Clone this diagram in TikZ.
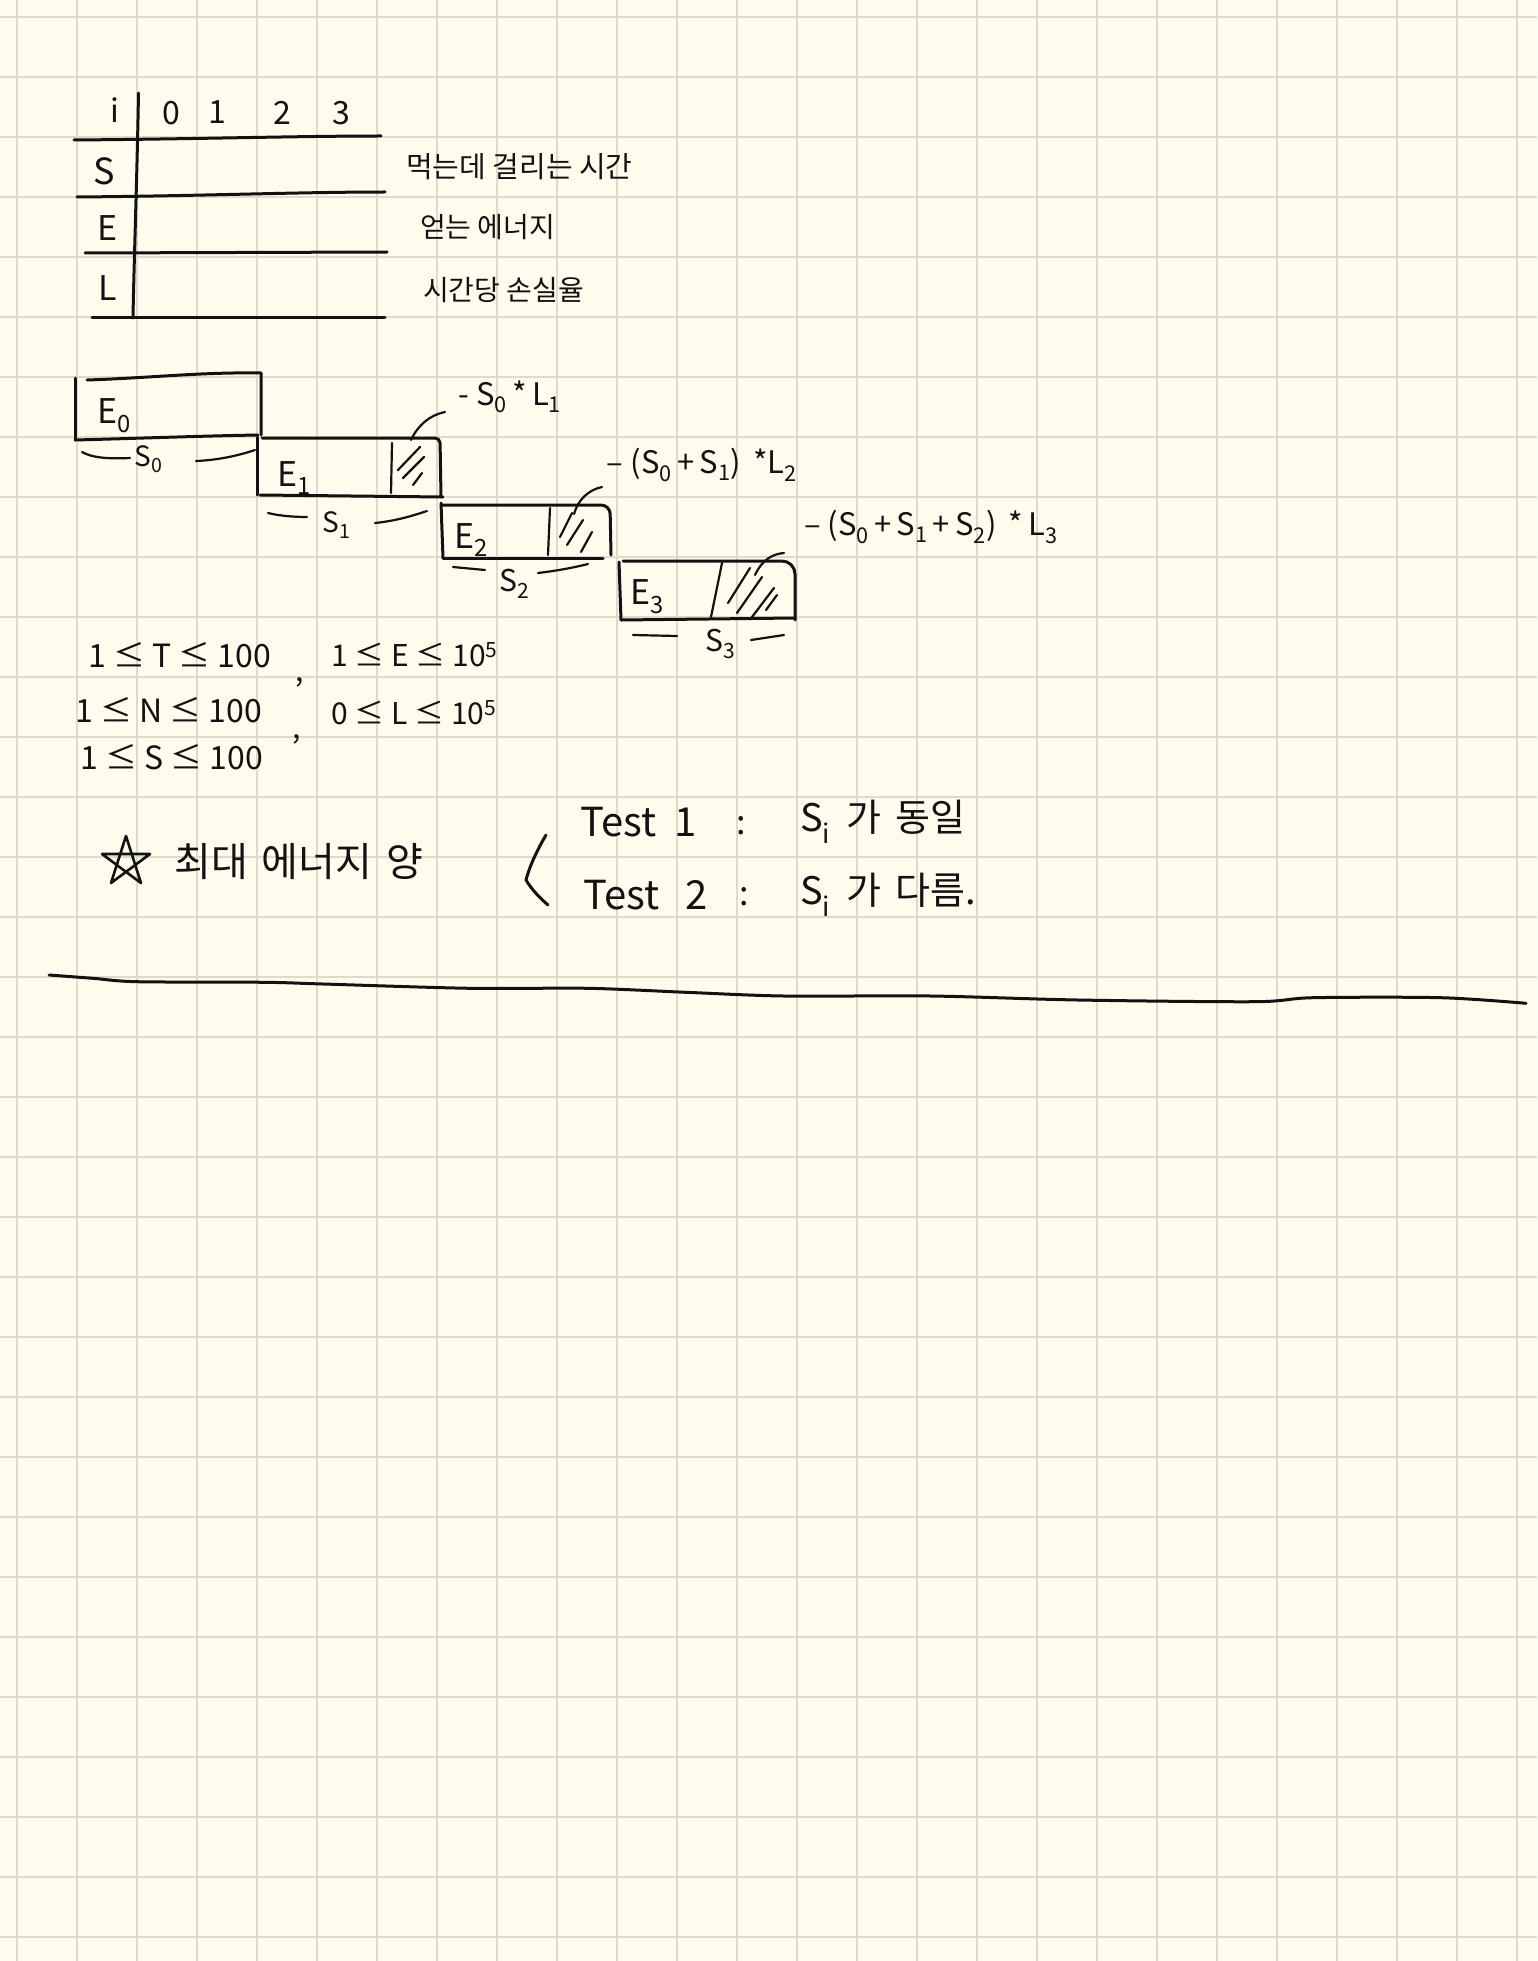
\documentclass[tikz,border=0pt]{standalone}
\usepackage{fontspec}
\setmainfont{Noto Sans CJK KR}
\definecolor{paper}{RGB}{255,252,237}
\definecolor{gridc}{RGB}{221,219,203}
\definecolor{ink}{RGB}{18,18,18}
\begin{document}
\begin{tikzpicture}[x=1pt,y=-1pt,
  pen/.style={draw=ink,line width=3pt,line cap=round,line join=round},
  thinpen/.style={draw=ink,line width=2.2pt,line cap=round,line join=round},
  hw/.style={text=ink,inner sep=0pt,font=\fontsize{#1}{#1}\selectfont},
]
\fill[paper] (0,0) rectangle (1537,1961);
\useasboundingbox (0,0) rectangle (1537,1961);
\foreach \i in {0,...,25} \draw[gridc,line width=2pt] ({16.7+60*\i},0) -- ({16.7+60*\i},1961);
\foreach \j in {0,...,32} \draw[gridc,line width=2pt] (0,{16.7+60*\j}) -- (1537,{16.7+60*\j});

% ---- table
\draw[pen] (74,140) .. controls (200,139) and (300,136) .. (381,136);
\draw[pen] (77,197) .. controls (200,196) and (300,192) .. (385,192);
\draw[pen] (85,253) -- (387,252);
\draw[pen] (92,317) -- (385,317);
\draw[pen] (138.5,93) .. controls (137,180) and (134,260) .. (133,318);
\node[hw=32] (hi) at (115,110) {i};
\node[hw=32] (h0) at (171,113) {0};
\node[hw=32] (h1) at (217,112) {1};
\node[hw=32] (h2) at (282,113) {2};
\node[hw=32] (h3) at (341,113) {3};
\node[hw=36] (rS) at (104,171) {S};
\node[hw=34] (rE) at (108,228) {E};
\node[hw=34] (rL) at (108,288) {L};
\node[hw=29,anchor=west] (kS) at (406,167) {먹는데 걸리는 시간};
\node[hw=28,anchor=west] (kE) at (420,227) {얻는 에너지};
\node[hw=28,anchor=west] (kL) at (423,290) {시간당 손실율};

% ---- staircase
% E0
\draw[pen] (75,378) -- (75,440);
\draw[pen] (87,380) .. controls (150,378) and (200,372) .. (261,373) -- (261,435);
\draw[pen] (75,440) .. controls (150,438) and (200,436) .. (258,435);
\node[hw=34] (e0) at (114,416) {E\textsubscript{0}};
% E1
\draw[pen] (257,437) -- (257,495);
\draw[pen,rounded corners=5] (262,438) -- (440,438) -- (441,497);
\draw[pen] (260,495) -- (443,497);
\draw[thinpen] (392,443) -- (391,493);
\draw[thinpen] (398,470) -- (420,447);
\draw[thinpen] (403,478) -- (424,457);
\draw[thinpen] (413,485) -- (422,473);
\node[hw=34] (e1) at (294,478) {E\textsubscript{1}};
% E2
\draw[pen] (441,503) -- (443,558);
\draw[pen,rounded corners=9] (441,505) -- (610,505) -- (611,555);
\draw[pen] (443,558) -- (603,558);
\draw[thinpen] (550,508) -- (548,555);
\draw[thinpen] (572,513) -- (560,537);
\draw[thinpen] (583,520) -- (567,545);
\draw[thinpen] (592,532) -- (581,552);
\node[hw=34] (e2) at (471,540) {E\textsubscript{2}};
% E3
\draw[pen] (619,562) -- (621,620);
\draw[pen,rounded corners=13] (623,561) -- (795,561) -- (795,620);
\draw[pen] (621,620) -- (795,618);
\draw[thinpen] (722,563) -- (711,617);
\draw[thinpen] (728,603) -- (750,568);
\draw[thinpen] (737,613) -- (762,577);
\draw[thinpen] (752,617) -- (774,588);
\draw[thinpen] (766,610) -- (777,595);
\node[hw=34] (e3) at (647,597) {E\textsubscript{3}};

% leaders and loss labels
\node[hw=31] (l1) at (510,397) {- S\textsubscript{0}\,*\,L\textsubscript{1}};
\node[hw=31] (l2) at (702,465) {– (S\textsubscript{0}\,+\,S\textsubscript{1})\, *L\textsubscript{2}};
\node[hw=31] (l3) at (931,527) {– (S\textsubscript{0}\,+\,S\textsubscript{1}\,+\,S\textsubscript{2})\, *\,L\textsubscript{3}};
\coordinate (h1a) at (411,440);
\coordinate (h2a) at (574,514);
\coordinate (h3a) at (755,575);
\draw[thinpen] (h1a) .. controls (418,425) and (430,415) .. (445,412);
\draw[thinpen] (h2a) .. controls (578,500) and (588,490) .. (602,487);
\draw[thinpen] (h3a) .. controls (762,560) and (772,554) .. (784,553);

% braces
\draw[thinpen] (82,452) .. controls (92,458) and (110,459) .. (130,458);
\node[hw=28] (s0) at (149,459) {S\textsubscript{0}};
\draw[thinpen] (196,461) .. controls (220,460) and (240,455) .. (255,450);
\draw[thinpen] (268,513) .. controls (280,516) and (295,517) .. (307,517);
\node[hw=28] (s1) at (337,525) {S\textsubscript{1}};
\draw[thinpen] (375,523) .. controls (395,521) and (412,516) .. (427,511);
\draw[thinpen] (453,567) -- (485,570);
\node[hw=30] (s2) at (515,584) {S\textsubscript{2}};
\draw[thinpen] (538,573) .. controls (555,571) and (572,568) .. (588,564);
\draw[thinpen] (633,635) -- (677,636);
\node[hw=30] (s3) at (721,644) {S\textsubscript{3}};
\draw[thinpen] (751,640) -- (784,635);

% ---- constraints
\node[hw=32,anchor=west] (cT) at (88,655) {1 ≤ T ≤ 100};
\node[hw=30,anchor=west] (cE) at (331,655) {1 ≤ E ≤ 10\textsuperscript{5}};
\node[hw=32,anchor=west] (cN) at (75,710) {1 ≤ N ≤ 100};
\node[hw=30,anchor=west] (cL) at (331,713) {0 ≤ L ≤ 10\textsuperscript{5}};
\node[hw=32,anchor=west] (cS) at (80,757) {1 ≤ S ≤ 100};
\node[hw=30] (cm1) at (300,682) {,};
\node[hw=30] (cm2) at (297,739) {,};

% ---- bottom section
\draw[thinpen,line width=2.6pt] (126,836) -- (141,883) -- (102,854) -- (150,854) -- (111,883) -- cycle;
\node[hw=40,anchor=west] (mx) at (174,862) {최대\hspace{14pt}에너지\hspace{14pt}양};
\draw[pen] (546,835) .. controls (536,852) and (529,868) .. (526,880) .. controls (532,890) and (540,898) .. (548,905);
\node[hw=40,anchor=west] (t1) at (580,822) {Test\hspace{18pt}1};
\node[hw=34] (t1c) at (741,826) {:};
\node[hw=38,anchor=west] (t1r) at (800,822) {S\textsubscript{i}\hspace{16pt}가\hspace{14pt}동일};
\node[hw=40,anchor=west] (t2) at (583,895) {Test\hspace{26pt}2};
\node[hw=34] (t2c) at (744,897) {:};
\node[hw=38,anchor=west] (t2r) at (800,895) {S\textsubscript{i}\hspace{16pt}가\hspace{14pt}다름.};

% separator
\draw[pen] plot[smooth] coordinates {(49,975) (93,978.3) (137,981.7) (265,982.3) (323,984) (470,988.3) (588,988.3) (686,992.3) (784,996) (931,996) (1078,1000) (1255,1001.7) (1313,997.7) (1441,997.7) (1526,1003.3)};
\end{tikzpicture}
\end{document}
